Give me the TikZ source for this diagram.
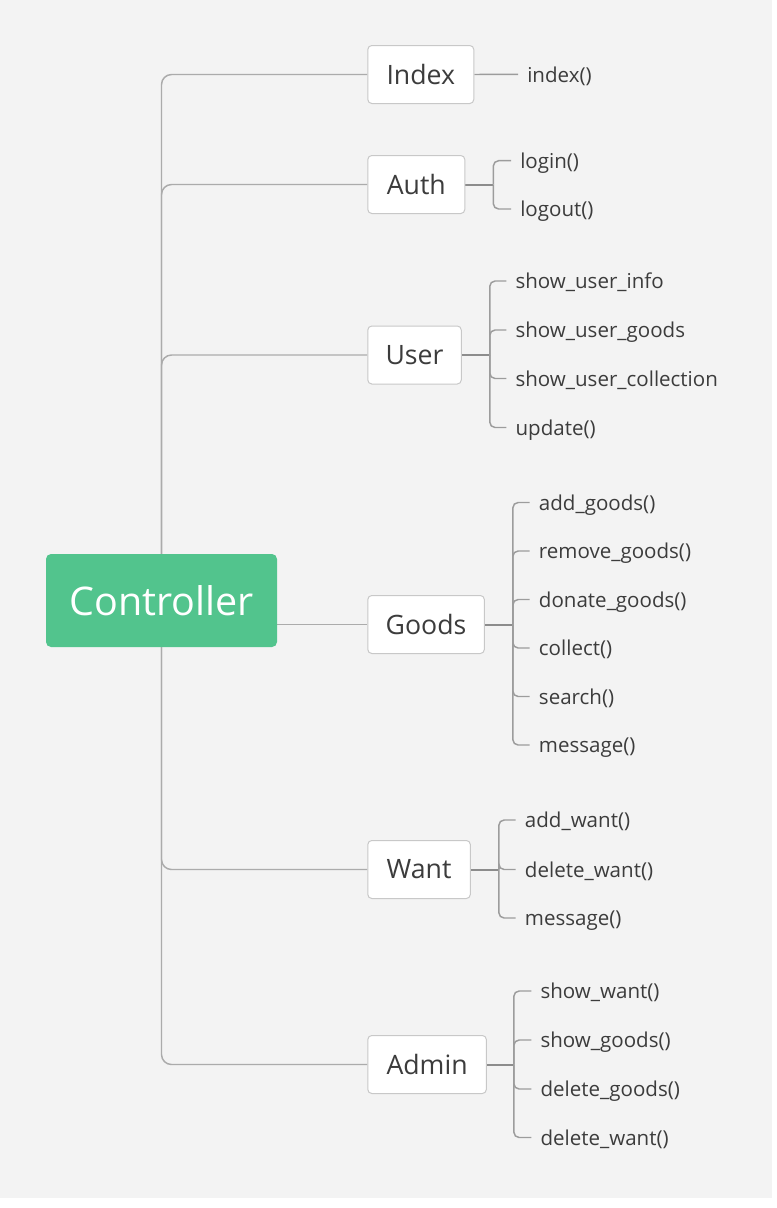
\documentclass[tikz,border=0pt]{standalone}
\usepackage{fontspec}
\setmainfont{Open Sans}
\definecolor{bg}{HTML}{F3F3F3}
\definecolor{ctrl}{HTML}{52C48D}
\definecolor{trunkc}{HTML}{ABABAB}
\definecolor{linkc}{HTML}{8C8C8C}
\definecolor{stubc}{HTML}{9C9C9C}
\definecolor{boxline}{HTML}{C8C8C8}
\definecolor{txt}{HTML}{3C3C3C}
\pgfdeclarelayer{paper}
\pgfdeclarelayer{lines}
\pgfsetlayers{paper,lines,main}
\begin{document}
\begin{tikzpicture}[x=0.75pt,y=-0.75pt,
  root/.style={fill=ctrl,rounded corners=3.75pt,minimum width=173.25pt,minimum height=69.75pt,
    text=white,font=\fontsize{29.6}{32}\selectfont,inner sep=0pt},
  topic/.style={draw=boxline,line width=0.75pt,fill=white,rounded corners=3pt,anchor=west,
    minimum height=43.5pt,inner sep=0pt,text=txt,font=\fontsize{20}{24}\selectfont},
  leaf/.style={anchor=west,inner sep=0pt,text height=11.6pt,text depth=0pt,text=txt,
    font=\fontsize{15.4}{18}\selectfont},
  trunk/.style={draw=trunkc,line width=1.1pt,rounded corners=7.5pt},
  link/.style={draw=linkc,line width=1.5pt},
  stub/.style={draw=stubc,line width=1.1pt,rounded corners=4pt}]
\useasboundingbox (0,0) rectangle (777,1208);
\begin{pgfonlayer}{paper}
\fill[white] (0,0) rectangle (777,1208);
\fill[bg] (0,0) rectangle (772,1198);
\end{pgfonlayer}

% root and topics
\node[root] (ctrl) at (161.5,600.5) {Controller};
\node[topic,minimum width=79.5pt] (index) at (367.3,74.5) {Index};
\node[topic,minimum width=72.75pt] (auth) at (367.3,184.5) {Auth};
\node[topic,minimum width=70.1pt] (user) at (367.3,355) {User};
\node[topic,minimum width=87.4pt] (goods) at (367.3,624.5) {Goods};
\node[topic,minimum width=76.9pt] (want) at (367.3,869.5) {Want};
\node[topic,minimum width=88.9pt] (admin) at (367.3,1064.5) {Admin};

% leaves
\node[leaf] (i1) at (527,74.3) {index()};
\node[leaf] (a1) at (520,160.7) {login()};
\node[leaf] (a2) at (520,209) {logout()};
\node[leaf] (u1) at (515.3,281) {show\_user\_info};
\node[leaf] (u2) at (515.3,330) {show\_user\_goods};
\node[leaf] (u3) at (515.3,378.5) {show\_user\_collection};
\node[leaf] (u4) at (515.3,427.5) {update()};
\node[leaf] (g1) at (538.7,502.5) {add\_goods()};
\node[leaf] (g2) at (538.7,551) {remove\_goods()};
\node[leaf] (g3) at (538.7,599.5) {donate\_goods()};
\node[leaf] (g4) at (538.7,648) {collect()};
\node[leaf] (g5) at (538.7,696.5) {search()};
\node[leaf] (g6) at (538.7,745) {message()};
\node[leaf] (w1) at (524.7,820) {add\_want()};
\node[leaf] (w2) at (524.7,869.5) {delete\_want()};
\node[leaf] (w3) at (524.7,918) {message()};
\node[leaf] (d1) at (540.3,991) {show\_want()};
\node[leaf] (d2) at (540.3,1040) {show\_goods()};
\node[leaf] (d3) at (540.3,1089) {delete\_goods()};
\node[leaf] (d4) at (540.3,1137.5) {delete\_want()};

\begin{pgfonlayer}{lines}
% trunk connectors (behind root)
\path[trunk] (ctrl.center) |- (index.west);
\path[trunk] (ctrl.center) |- (auth.west);
\path[trunk] (ctrl.center) |- (user.west);
\path[trunk] (ctrl.center) |- (want.west);
\path[trunk] (ctrl.center) |- (admin.west);
\path[trunk] (ctrl.east |- goods.west) -- (goods.west);
% index
\draw[stub] (index.east) -- ([xshift=-6.75pt]i1.west);
% bracket points
\coordinate (aB) at ([xshift=21pt]auth.east);
\coordinate (uB) at ([xshift=21pt]user.east);
\coordinate (gB) at ([xshift=21pt]goods.east);
\coordinate (wB) at ([xshift=21pt]want.east);
\coordinate (dB) at ([xshift=20.25pt]admin.east);
\draw[link] (auth.east) -- (aB);
\draw[link] (user.east) -- (uB);
\draw[link] (goods.east) -- (gB);
\draw[link] (want.east) -- (wB);
\draw[link] (admin.east) -- (dB);
\foreach \b/\c in {aB/a1,aB/a2,uB/u1,uB/u2,uB/u3,uB/u4,gB/g1,gB/g2,gB/g3,gB/g4,gB/g5,gB/g6,
  wB/w1,wB/w2,wB/w3,dB/d1,dB/d2,dB/d3,dB/d4}
  \draw[stub] (\b) |- ([xshift=-6.75pt]\c.west);
\end{pgfonlayer}
\end{tikzpicture}
\end{document}
